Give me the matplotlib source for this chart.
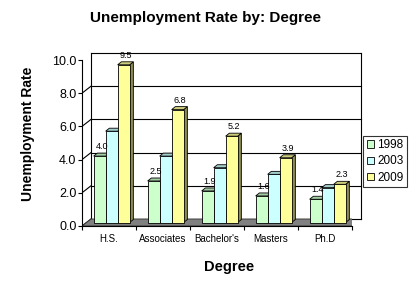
import matplotlib
matplotlib.use("Agg")
import matplotlib.pyplot as plt
import matplotlib.transforms as mtransforms
from matplotlib.patches import Polygon, Rectangle
from matplotlib.lines import Line2D
import numpy as np

categories = ["H.S.", "Associates", "Bachelor's", "Masters", "Ph.D"]
series_names = ["1998", "2003", "2009"]
v1998 = [4.0, 2.5, 1.9, 1.6, 1.4]
v2003 = [5.5, 4.0, 3.3, 2.9, 2.1]
v2009 = [9.5, 6.8, 5.2, 3.9, 2.3]
labelled = [True, False, True]
yticks = [0, 2, 4, 6, 8, 10]

face_colors = ["#CCFFCC", "#CCFFFF", "#FFFF99"]

def shade(c, f):
    r, g, b = matplotlib.colors.to_rgb(c)
    return (r * f, g * f, b * f)

plt.rcParams['font.family'] = ['Liberation Sans', 'DejaVu Sans']

DPI = 100
fig = plt.figure(figsize=(4.12, 2.83), dpi=DPI)
W, H = 412, 283
ax = fig.add_axes([82 / W, 57 / H, 270 / W, 166 / H])
ax.set_xlim(-0.5, len(categories) - 0.5)
ax.set_ylim(0, 10)
ax.patch.set_visible(False)

# depth (px) of the back wall
DX, DY = 9, 7
# bar geometry
bw = 12 / 54.0
shift = -1.85 / 54.0
BDX, BDY = 4.5, 3.5   # bar front plane offset
SX, SY = 3.7, 3.0      # bar own depth

def off(dx, dy):
    return ax.transData + mtransforms.ScaledTranslation(dx / DPI, dy / DPI, fig.dpi_scale_trans)

ident = mtransforms.IdentityTransform()

def disp(x, y, dx=0, dy=0):
    p = ax.transData.transform((x, y))
    return (p[0] + dx, p[1] + dy)

x0, x1 = -0.5, len(categories) - 0.5

# Back wall gridlines
for yv in yticks:
    ax.plot([x0, x1], [yv, yv], color="black", lw=0.8, transform=off(DX, DY), zorder=1, clip_on=False)
    a = disp(x0, yv); b = disp(x0, yv, DX, DY)
    ax.add_line(Line2D([a[0], b[0]], [a[1], b[1]], color="black", lw=0.8, transform=ident, zorder=1))
# back wall verticals
for xv in (x0, x1):
    ax.plot([xv, xv], [0, 10], color="black", lw=0.8, transform=off(DX, DY), zorder=1, clip_on=False)

# floor
fl = [disp(x0, 0), disp(x1, 0), disp(x1, 0, DX, DY), disp(x0, 0, DX, DY)]
ax.add_patch(Polygon(fl, closed=True, facecolor="#808080", edgecolor="#333333", lw=0.6,
                     transform=ident, zorder=2))

# bars
all_vals = [v1998, v2003, v2009]
xs = np.arange(len(categories))
z = 3
for i in range(len(categories)):
    for j, vals in enumerate(all_vals):
        xc = xs[i] + (j - 1) * bw + shift
        bars = ax.bar([xc], [vals[i]], width=bw, color=face_colors[j], edgecolor="black",
                      linewidth=0.6, zorder=z + 2, clip_on=False)
        bars[0].set_transform(off(BDX, BDY))
        xl, xr = xc - bw / 2, xc + bw / 2
        v = vals[i]
        side = [disp(xr, 0, BDX, BDY), disp(xr, v, BDX, BDY),
                disp(xr, v, BDX + SX, BDY + SY), disp(xr, 0, BDX + SX, BDY + SY)]
        top = [disp(xl, v, BDX, BDY), disp(xr, v, BDX, BDY),
               disp(xr, v, BDX + SX, BDY + SY), disp(xl, v, BDX + SX, BDY + SY)]
        ax.add_patch(Polygon(side, closed=True, facecolor=shade(face_colors[j], 0.55),
                             edgecolor="black", lw=0.6, transform=ident, zorder=z))
        ax.add_patch(Polygon(top, closed=True, facecolor=shade(face_colors[j], 0.8),
                             edgecolor="black", lw=0.6, transform=ident, zorder=z + 1))
        if labelled[j]:
            ax.text(xc, v, f"{v:.1f}", transform=off(BDX + 2, BDY + SY + 2),
                    ha="center", va="bottom", fontsize=6.5, zorder=50)
        z += 3

# axes styling
for s in ("top", "right"):
    ax.spines[s].set_visible(False)
ax.spines["left"].set_linewidth(0.8)
ax.spines["bottom"].set_linewidth(0.8)
ax.spines["bottom"].set_zorder(2.5)
ax.set_yticks(yticks)
ax.set_yticklabels([f"{t:.1f}" for t in yticks], fontsize=9)
ax.tick_params(axis="y", direction="out", length=3, width=0.8, pad=1)
ax.set_xticks(xs)
ax.set_xticklabels(categories, fontsize=7)
ax.set_xticks(np.arange(len(categories) + 1) - 0.5, minor=True)
ax.tick_params(axis="x", which="major", length=0, pad=6)
ax.tick_params(axis="x", which="minor", direction="out", length=3, width=0.8)

fig.text(206 / W, 1 - 18 / H, "Unemployment Rate by: Degree", ha="center", va="center",
         fontsize=11, fontweight="bold")
fig.text(28 / W, 1 - 134 / H, "Unemployment Rate", rotation=90, ha="center", va="center",
         fontsize=10, fontweight="bold")
fig.text(229 / W, 1 - 267 / H, "Degree", ha="center", va="center", fontsize=10.5, fontweight="bold")

# legend
handles = [Rectangle((0, 0), 1, 1, facecolor=c, edgecolor="black", lw=0.6) for c in face_colors]
leg = fig.legend(handles, series_names, loc="center", bbox_to_anchor=(385 / W, 1 - 161.5 / H),
                 fontsize=8.5, frameon=True, fancybox=False, edgecolor="black",
                 handlelength=0.6, handleheight=0.6, handletextpad=0.3, borderpad=0.3,
                 labelspacing=0.35, borderaxespad=0)
leg.get_frame().set_linewidth(0.8)

fig.savefig("out.png", dpi=DPI)
